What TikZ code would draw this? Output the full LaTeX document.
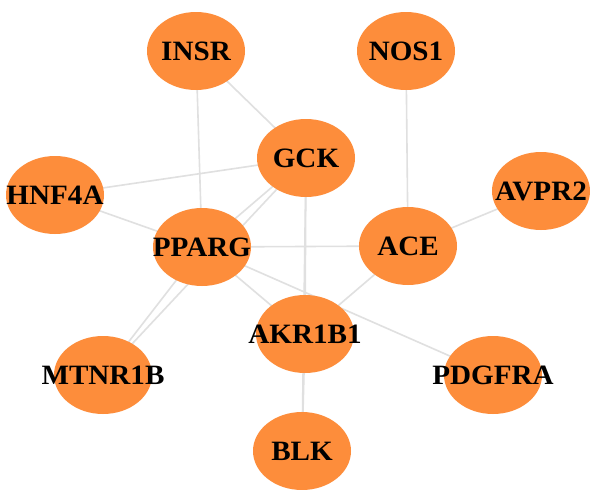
\documentclass[tikz,border=0pt]{standalone}
\usepackage{fontspec}
\setmainfont{Liberation Serif}
\usetikzlibrary{shapes.geometric,backgrounds}
\definecolor{nodeorange}{RGB}{253,141,59}
\definecolor{edgegray}{RGB}{224,224,224}
\newcommand{\genelabel}[1]{\makebox[0pt]{\scalebox{1.04}[1]{#1}}}
\begin{document}
\begin{tikzpicture}[x=1pt,y=-1pt,
  gene/.style={ellipse,fill=nodeorange,draw=none,minimum width=98pt,minimum height=78pt,inner sep=0pt,
    font=\fontsize{28}{30}\selectfont\bfseries},
  link/.style={draw=edgegray,line width=1.6pt}]
\useasboundingbox (0,0) rectangle (590,490);
\node[gene] (INSR) at (196,51) {\genelabel{INSR}};
\node[gene] (NOS1) at (406,51) {\genelabel{NOS1}};
\node[gene] (GCK) at (306,158) {\genelabel{GCK}};
\node[gene] (HNF4A) at (55,195) {\genelabel{HNF4A}};
\node[gene] (AVPR2) at (541,191) {\genelabel{AVPR2}};
\node[gene] (PPARG) at (202,247) {\genelabel{PPARG}};
\node[gene] (ACE) at (408,246) {\genelabel{ACE}};
\node[gene] (AKR1B1) at (305,334) {\genelabel{AKR1B1}};
\node[gene] (MTNR1B) at (103,375) {\genelabel{MTNR1B}};
\node[gene] (PDGFRA) at (493,375) {\genelabel{PDGFRA}};
\node[gene] (BLK) at (302,451) {\genelabel{BLK}};
\begin{scope}[on background layer]
\fill[white] (0,0) rectangle (590,490);
\draw[link] (INSR.center) -- (GCK.center);
\draw[link] (INSR.center) -- (PPARG.center);
\draw[link] (NOS1.center) -- (ACE.center);
\draw[link] (HNF4A.center) -- (GCK.center);
\draw[link] (HNF4A.center) -- (PPARG.center);
\draw[link] (GCK.center) -- (PPARG.center);
\draw[link] (GCK.center) -- (MTNR1B.center);
\draw[link] (GCK.center) -- (AKR1B1.center);
\draw[link] (GCK.center) -- (BLK.center);
\draw[link] (AVPR2.center) -- (ACE.center);
\draw[link] (PPARG.center) -- (ACE.center);
\draw[link] (PPARG.center) -- (AKR1B1.center);
\draw[link] (PPARG.center) -- (PDGFRA.center);
\draw[link] (PPARG.center) -- (MTNR1B.center);
\draw[link] (ACE.center) -- (AKR1B1.center);
\draw[link] (AKR1B1.center) -- (BLK.center);
\end{scope}
\end{tikzpicture}
\end{document}
